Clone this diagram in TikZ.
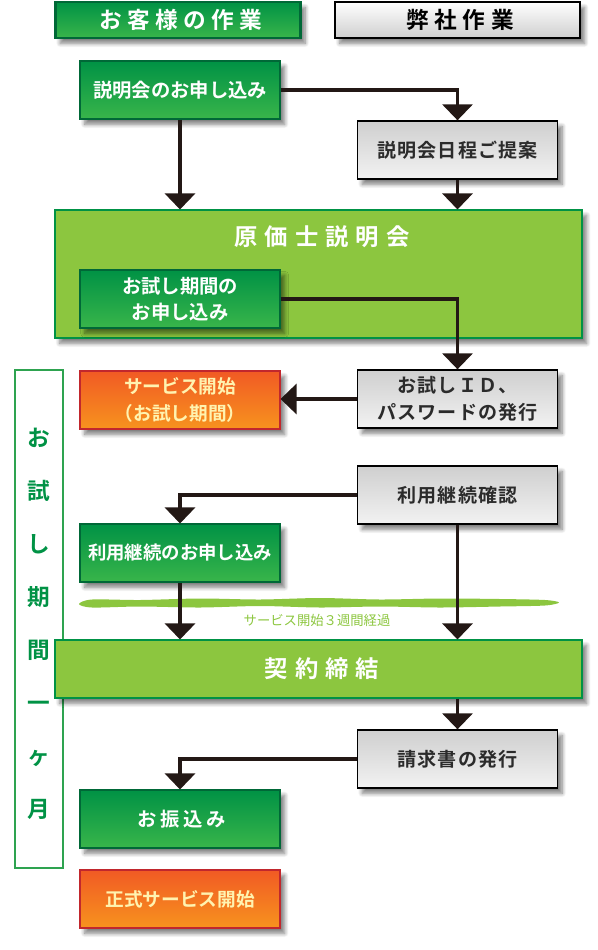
\documentclass[tikz,border=0pt]{standalone}
\usepackage{fontspec}
\setmainfont{Noto Sans CJK JP}[BoldFont={* Bold}]
\newfontfamily\jphdr{Noto Sans CJK JP}[BoldFont={* Bold}, LetterSpace=24]
\newfontfamily\jpwide{Noto Sans CJK JP}[BoldFont={* Bold}, LetterSpace=30]
\newfontfamily\jpsemi{Noto Sans CJK JP}[BoldFont={* Bold}, LetterSpace=6]
\newfontfamily\jpmid{Noto Sans CJK JP}[BoldFont={* Bold}, LetterSpace=18]
\usetikzlibrary{arrows.meta, shadows.blur}
\definecolor{dkgreen}{HTML}{009245}
\definecolor{mdgreen}{HTML}{39B54A}
\definecolor{bordgreen}{HTML}{006837}
\definecolor{framegreen}{HTML}{2EA350}
\definecolor{lgreen}{HTML}{8CC63F}
\definecolor{orgtop}{HTML}{F15A24}
\definecolor{orgbot}{HTML}{F7931E}
\definecolor{orgbord}{HTML}{C1272D}
\definecolor{orgtext}{HTML}{FFF3B0}
\definecolor{arrowc}{HTML}{231815}
\definecolor{greytop}{HTML}{CFCFCF}
\definecolor{greybot}{HTML}{F2F2F2}
\definecolor{greytext}{HTML}{2B2B2B}
\tikzset{
  shad/.style={blur shadow={shadow xshift=3.5pt, shadow yshift=-4pt, shadow blur radius=3pt, shadow blur steps=8, shadow opacity=50}},
  box/.style={rectangle, minimum width=150pt, minimum height=43.5pt, inner sep=2pt, align=center, shad},
  gbox/.style={box, draw=bordgreen, line width=0.8pt, top color=dkgreen, bottom color=mdgreen, text=white, font=\fontsize{14.5}{20}\selectfont\bfseries},
  sbox/.style={box, draw=black, line width=1pt, top color=greytop, bottom color=greybot, text=greytext, font=\jpsemi\fontsize{14.3}{20}\selectfont\bfseries},
  obox/.style={box, draw=orgbord, line width=0.8pt, top color=orgtop, bottom color=orgbot, text=orgtext, font=\fontsize{14}{20}\selectfont\bfseries},
  bigbox/.style={rectangle, minimum width=395.25pt, draw=dkgreen, line width=0.8pt, fill=lgreen, shad},
  hdrL/.style={rectangle, minimum width=183.75pt, minimum height=27pt, draw=bordgreen, line width=2.2pt, top color=dkgreen, bottom color=mdgreen, text=white, font=\jphdr\fontsize{17}{20}\selectfont\bfseries, shad},
  hdrR/.style={rectangle, minimum width=183.75pt, minimum height=27pt, draw=black, line width=2.2pt, top color=white, bottom color=greytop, text=black, font=\jphdr\fontsize{17}{20}\selectfont\bfseries, shad},
  arr/.style={draw=arrowc, line width=2.4pt, -{Triangle[width=22.5pt,length=12pt]}},
}
\begin{document}
\begin{tikzpicture}[x=0.75pt,y=-0.75pt]
\useasboundingbox (0,0) rectangle (598,950);
% left frame (trial period)
\node[draw=framegreen, line width=1pt, minimum width=36pt, minimum height=373.5pt] (frame) at (39,619) {};
\node[text=dkgreen, font=\fontsize{17}{39.75}\selectfont\bfseries, align=center] (vt) at (39,624) {お\\試\\し\\期\\間\\一\\ヶ\\月};
% headers
\node[hdrL] (h1) at (178,20) {\hspace*{0.24em}お客様の作業};
\node[hdrR] (h2) at (457.5,20) {\hspace*{0.24em}弊社作業};
% boxes
\node[gbox] (n1) at (180,90) {説明会のお申し込み};
\node[sbox] (n2) at (457.5,150) {説明会日程ご提案};
\node[bigbox, minimum height=96pt] (big) at (318.5,274) {};
\node[text=white, font=\jpwide\fontsize{17.5}{20}\selectfont\bfseries] (bigt) at (318.5,237) {\hspace*{0.3em}原価士説明会};
\node[gbox] (n3) at (180,299) {お試し期間の\\お申し込み};
\node[sbox] (n4) at (457.5,399) {お試しＩＤ、\\パスワードの発行};
\node[obox] (n5) at (180,400) {サービス開始\\（お試し期間）};
\node[sbox] (n6) at (457.5,495) {利用継続確認};
\node[gbox, font=\fontsize{13.8}{20}\selectfont\bfseries] (n7) at (180,553) {利用継続のお申し込み};
% brush stroke
\fill[lgreen] plot[smooth cycle, tension=0.5] coordinates {(79,604) (92,599.5) (140,600) (200,598.5) (260,599.5) (320,598) (380,599.5) (440,598.5) (500,599) (545,600) (559,602.5) (545,605.5) (500,606.5) (440,607.5) (380,606.5) (320,607.5) (260,606) (200,607.5) (140,606.5) (92,607.5)};
\node[text=lgreen, font=\fontsize{10}{12}\selectfont] (lab) at (317,620) {サービス開始３週間経過};
\node[bigbox, minimum height=43.5pt, text=white, font=\jpwide\fontsize{17.5}{20}\selectfont\bfseries] (n8) at (318.5,669) {\hspace*{0.3em}契約締結};
\node[sbox] (n9) at (457.5,759) {請求書の発行};
\node[gbox, font=\jpmid\fontsize{14.5}{20}\selectfont\bfseries] (n10) at (180,819) {\hspace*{0.18em}お振込み};
\node[obox] (n11) at (180,899) {正式サービス開始};
% connectors
\draw[arr] (n1.east) -| (n2.north);
\draw[arr] (n1.south) -- (n1.south |- big.north);
\draw[arr] (n2.south) -- (n2.south |- big.north);
\draw[arr] (n3.east) -| (n4.north);
\draw[arr] (n4.west) -- (n4.west -| n5.east);
\draw[arr] (n6.west) -| (n7.north);
\draw[arr] (n7.south) -- (n7.south |- n8.north);
\draw[arr] (n6.south) -- (n6.south |- n8.north);
\draw[arr] (n9.north |- n8.south) -- (n9.north);
\draw[arr] (n9.west) -| (n10.north);
\end{tikzpicture}
\end{document}
